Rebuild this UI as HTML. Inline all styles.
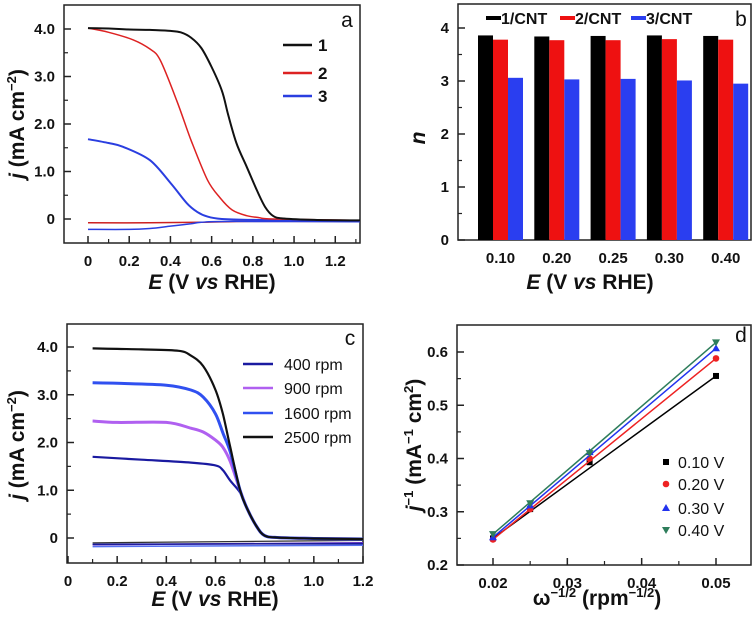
<!DOCTYPE html>
<html><head><meta charset="utf-8">
<style>
html,body{margin:0;padding:0;background:#fff;}
svg{display:block;font-family:"Liberation Sans",Arial,sans-serif;}
.tk{font-size:15px;font-weight:bold;fill:#111;}
.tt{font-size:21px;font-weight:bold;fill:#111;}
.lg{font-size:16px;fill:#111;}
</style></head>
<body>
<svg id="fig" width="756" height="619" viewBox="0 0 756 619" xmlns="http://www.w3.org/2000/svg"></svg>
<script>
// ---------- Panel a data ----------
const aBlackE=[0,0.1,0.2,0.3,0.4,0.45,0.5,0.55,0.6,0.65,0.68,0.72,0.77,0.82,0.86,0.9,0.95,1.1,1.32];
const aBlackJ=[4.02,4.01,3.99,3.98,3.96,3.93,3.82,3.6,3.2,2.7,2.2,1.6,1.1,0.6,0.25,0.06,0.01,-0.02,-0.03];
const aRedE=[0,0.1,0.22,0.3,0.35,0.43,0.5,0.58,0.64,0.7,0.77,0.83,0.9,1.32];
const aRedJ=[4.02,3.93,3.77,3.58,3.35,2.5,1.66,0.82,0.45,0.19,0.07,0.03,0.0,-0.03];
const aBlueE=[0,0.1,0.17,0.3,0.4,0.48,0.53,0.58,0.65,0.8,1.32];
const aBlueJ=[1.68,1.6,1.52,1.24,0.76,0.33,0.15,0.05,0.0,-0.02,-0.05];
const aRedRetE=[0,0.3,0.55,0.8,1.32];
const aRedRetJ=[-0.08,-0.08,-0.07,-0.05,-0.05];
const aBlueRetE=[0,0.2,0.3,0.4,0.5,0.55,0.7,1.32];
const aBlueRetJ=[-0.22,-0.22,-0.2,-0.15,-0.1,-0.07,-0.05,-0.06];
const aXTicks=[0,0.2,0.4,0.6,0.8,1.0,1.2];
const aXTickLabels=["0","0.2","0.4","0.6","0.8","1.0","1.2"];
const aYTicks=[0,1,2,3,4];
const aYTickLabels=["0","1.0","2.0","3.0","4.0"];
const aLegend=["1","2","3"];
// ---------- Panel b data ----------
const bCategories=["0.10","0.20","0.25","0.30","0.40"];
const bSeries1=[3.86,3.84,3.85,3.86,3.85];
const bSeries2=[3.78,3.77,3.77,3.79,3.78];
const bSeries3=[3.06,3.03,3.04,3.01,2.95];
const bYTicks=[0,1,2,3,4];
const bLegend=["1/CNT","2/CNT","3/CNT"];
// ---------- Panel c data ----------
const c2500E=[0.1,0.2,0.3,0.45,0.5,0.55,0.6,0.63,0.66,0.7,0.73,0.77,0.8,0.85,1.0,1.2];
const c2500J=[3.97,3.96,3.95,3.92,3.82,3.6,3.1,2.6,1.9,1.0,0.6,0.22,0.05,0.01,-0.01,-0.02];
const c1600E=[0.1,0.2,0.4,0.5,0.55,0.6,0.63,0.66,0.7,0.73,0.77,0.8,0.85,1.0,1.2];
const c1600J=[3.25,3.24,3.2,3.1,2.95,2.6,2.2,1.8,1.0,0.6,0.22,0.05,0.01,-0.01,-0.02];
const c900E=[0.1,0.2,0.4,0.5,0.55,0.6,0.63,0.66,0.7,0.73,0.77,0.8,0.85,1.0,1.2];
const c900J=[2.45,2.42,2.42,2.3,2.22,2.05,1.9,1.6,1.0,0.6,0.22,0.05,0.01,-0.01,-0.02];
const c400E=[0.1,0.3,0.5,0.6,0.63,0.66,0.7,0.73,0.77,0.8,0.85,1.0,1.2];
const c400J=[1.7,1.64,1.58,1.52,1.42,1.2,0.95,0.6,0.22,0.05,0.01,-0.01,-0.02];
const cRetE=[0.1,1.2];
const cRet1=[-0.1,-0.05];
const cRet2=[-0.14,-0.1];
const cRet3=[-0.18,-0.15];
const cRet4=[-0.13,-0.12];
const cXTicks=[0,0.2,0.4,0.6,0.8,1.0,1.2];
const cXTickLabels=["0","0.2","0.4","0.6","0.8","1.0","1.2"];
const cYTicks=[0,1,2,3,4];
const cYTickLabels=["0","1.0","2.0","3.0","4.0"];
const cLegend=["400 rpm","900 rpm","1600 rpm","2500 rpm"];
// ---------- Panel d data ----------
const dX=[0.02,0.025,0.033,0.05];
const d010=[0.25,0.305,0.393,0.555];
const d020=[0.248,0.305,0.40,0.588];
const d030=[0.252,0.312,0.412,0.607];
const d040=[0.258,0.316,0.41,0.618];
const dXTicks=[0.02,0.03,0.04,0.05];
const dYTicks=[0.2,0.3,0.4,0.5,0.6];
const dLegend=["0.10 V","0.20 V","0.30 V","0.40 V"];

const NS="http://www.w3.org/2000/svg";
const svg=document.getElementById('fig');
function el(tag,attrs,parent,text){const e=document.createElementNS(NS,tag);for(const k in attrs)e.setAttribute(k,attrs[k]);if(text!==undefined)e.textContent=text;(parent||svg).appendChild(e);return e;}
function lin(d0,d1,r0,r1){return v=>r0+(v-d0)*(r1-r0)/(d1-d0);}

function frame(g,L,T,R,B,name){
  const r=el('rect',{x:L,y:T,width:R-L,height:B-T,fill:'none',stroke:'#222','stroke-width':1.5},g);
  
  
}
function curve(g,sx,sy,xs,ys,color,w,name){
  const P=xs.map((x,i)=>[sx(x),sy(ys[i])]);
  let d='M'+P[0][0].toFixed(1)+','+P[0][1].toFixed(1);
  for(let i=0;i<P.length-1;i++){
    const p0=P[Math.max(i-1,0)],p1=P[i],p2=P[i+1],p3=P[Math.min(i+2,P.length-1)];
    const t=0.16;
    const c1=[p1[0]+(p2[0]-p0[0])*t,p1[1]+(p2[1]-p0[1])*t];
    const c2=[p2[0]-(p3[0]-p1[0])*t,p2[1]-(p3[1]-p1[1])*t];
    d+=` C${c1[0].toFixed(1)},${c1[1].toFixed(1)} ${c2[0].toFixed(1)},${c2[1].toFixed(1)} ${p2[0].toFixed(1)},${p2[1].toFixed(1)}`;
  }
  const e=el('path',{d:d,fill:'none',stroke:color,'stroke-width':w,'stroke-linejoin':'round'},g);
  
  
}
function xAxis(g,sx,B,ticks,labels,minor,name){
  const ga=el('g',{},g);
  
  
  ticks.forEach((t,i)=>{
    el('line',{x1:sx(t),x2:sx(t),y1:B,y2:B-7,stroke:'#222','stroke-width':1.5},ga);
    const tx=el('text',{x:sx(t),y:B+23,'text-anchor':'middle',class:'tk'},ga,labels[i]);
    
    
  });
  minor.forEach(t=>el('line',{x1:sx(t),x2:sx(t),y1:B,y2:B-4,stroke:'#222','stroke-width':1.2},ga));
}
function yAxis(g,sy,L,ticks,labels,minor,name){
  const ga=el('g',{},g);
  
  
  ticks.forEach((t,i)=>{
    el('line',{x1:L,x2:L+7,y1:sy(t),y2:sy(t),stroke:'#222','stroke-width':1.5},ga);
    const tx=el('text',{x:L-9,y:sy(t)+5,'text-anchor':'end',class:'tk'},ga,labels[i]);
    
    
  });
  minor.forEach(t=>el('line',{x1:L,x2:L+4,y1:sy(t),y2:sy(t),stroke:'#222','stroke-width':1.2},ga));
}
function xTitle(g,x,y,name){
  const t=el('text',{x:x,y:y,'text-anchor':'middle',class:'tt'},g);
  
  
  el('tspan',{'font-style':'italic'},t,'E');
  el('tspan',{},t,' (V ');
  el('tspan',{'font-style':'italic'},t,'vs');
  el('tspan',{},t,' RHE)');
}
function jTitle(g,x,y,name){
  const t=el('text',{transform:`translate(${x},${y}) rotate(-90)`,'text-anchor':'middle',class:'tt'},g);
  
  
  el('tspan',{'font-style':'italic'},t,'j');
  el('tspan',{},t,' (mA cm');
  el('tspan',{dy:-8,'font-size':13},t,'−2');
  el('tspan',{dy:8},t,')');
}
function panelLetter(g,x,y,s,name){
  const t=el('text',{x:x,y:y,'font-size':21,fill:'#111','text-anchor':'middle'},g,s);
  
  
}
function range(a,b,s){const r=[];for(let v=a;v<=b+1e-9;v+=s)r.push(+v.toFixed(4));return r;}

// ===== Panel a =====
{
const g=el('g',{});


const L=64,T=5,R=360,B=243;
const sx=lin(0,1.32,88,360), sy=lin(0,4,219,29);
frame(g,L,T,R,B,'panel-a-frame');
xAxis(g,sx,B,aXTicks,aXTickLabels,range(0.1,1.3,0.2),'panel-a-x-axis');
yAxis(g,sy,L,aYTicks,aYTickLabels,range(0.5,3.5,1),'panel-a-y-axis');
curve(g,sx,sy,aRedRetE,aRedRetJ,'#cc2020',1.5,'curve-2-return');
curve(g,sx,sy,aBlueRetE,aBlueRetJ,'#2a3ee0',1.5,'curve-3-return');
curve(g,sx,sy,aBlueE,aBlueJ,'#2a3ee0',2,'curve-3');
curve(g,sx,sy,aRedE,aRedJ,'#dd2222',1.5,'curve-2');
curve(g,sx,sy,aBlackE,aBlackJ,'#111',2,'curve-1');
const cols=['#111','#dd2222','#2a3ee0'], ly=[45,73,96];
aLegend.forEach((s,i)=>{
  const le=el('g',{},g);
  
  
  el('line',{x1:283,x2:312,y1:ly[i],y2:ly[i],stroke:cols[i],'stroke-width':2.5},le);
  el('text',{x:318,y:ly[i]+6,'font-size':17,'font-weight':'bold',fill:'#111'},le,s);
});
panelLetter(g,347,27,'a','panel-a-letter');
xTitle(g,212,289,'panel-a-x-title');
jTitle(g,24,124,'panel-a-y-title');
}
// ===== Panel b =====
{
const g=el('g',{});


const L=458,T=4,R=751,B=240;
const sy=lin(0,4,240,28);
frame(g,L,T,R,B,'panel-b-frame');
const step=56.3, x0=478, bw=15;
const series=[bSeries1,bSeries2,bSeries3], cols=['#000','#ee1111','#2a3ef0'], names=['1-cnt','2-cnt','3-cnt'];
bCategories.forEach((c,i)=>{
  series.forEach((s,k)=>{
    const r=el('rect',{x:x0+i*step+k*bw,y:sy(s[i]),width:bw,height:sy(0)-sy(s[i]),fill:cols[k]},g);
    
    
  });
  const t=el('text',{x:x0+i*step+22.5,y:B+23,'text-anchor':'middle',class:'tk'},g,c);
  
  
});
yAxis(g,sy,L,bYTicks,bYTicks.map(String),range(0.5,3.5,1),'panel-b-y-axis');
const lx=[486,560,631];
bLegend.forEach((s,i)=>{
  const le=el('g',{},g);
  
  
  el('line',{x1:lx[i],x2:lx[i]+15,y1:18,y2:18,stroke:cols[i],'stroke-width':4},le);
  el('text',{x:lx[i]+15,y:24,'font-size':16,'font-weight':'bold',fill:'#111'},le,s);
});
panelLetter(g,741,26,'b','panel-b-letter');
xTitle(g,590,289,'panel-b-x-title');
const t=el('text',{x:0,y:0,transform:'translate(425,138) rotate(-90)','text-anchor':'middle','font-size':21,'font-weight':'bold','font-style':'italic',fill:'#111'},g,'n');


}
// ===== Panel c =====
{
const g=el('g',{});


const L=67,T=324,R=363,B=563;
const sx=lin(0,1.2,68,363), sy=lin(0,4,538,347);
frame(g,L,T,R,B,'panel-c-frame');
xAxis(g,sx,B,cXTicks,cXTickLabels,range(0.1,1.1,0.2),'panel-c-x-axis');
yAxis(g,sy,L,cYTicks,cYTickLabels,range(0.5,3.5,1),'panel-c-y-axis');
curve(g,sx,sy,cRetE,cRet3,'#5570f0',1.5,'return-1600');
curve(g,sx,sy,cRetE,cRet2,'#6030c0',1.5,'return-900');
curve(g,sx,sy,cRetE,cRet4,'#1a1a9a',1.5,'return-400');
curve(g,sx,sy,cRetE,cRet1,'#333',1.2,'return-2500');
curve(g,sx,sy,c400E,c400J,'#1a1aa0',2.2,'curve-400-rpm');
curve(g,sx,sy,c900E,c900J,'#b060f0',3,'curve-900-rpm');
curve(g,sx,sy,c1600E,c1600J,'#3050f0',3,'curve-1600-rpm');
curve(g,sx,sy,c2500E,c2500J,'#111',2.2,'curve-2500-rpm');
const cols=['#1a1aa0','#b060f0','#3050f0','#111'], ly=[364,388,413,437];
cLegend.forEach((s,i)=>{
  const le=el('g',{},g);
  
  
  el('line',{x1:243,x2:273,y1:ly[i],y2:ly[i],stroke:cols[i],'stroke-width':2.5},le);
  el('text',{x:284,y:ly[i]+6,class:'lg'},le,s);
});
panelLetter(g,350,345,'c','panel-c-letter');
xTitle(g,215,606,'panel-c-x-title');
jTitle(g,24,445,'panel-c-y-title');
}
// ===== Panel d =====
{
const g=el('g',{});


const L=457,T=325,R=751,B=565;
const sx=lin(0.02,0.05,493,716), sy=lin(0.2,0.6,565,352);
frame(g,L,T,R,B,'panel-d-frame');
xAxis(g,sx,B,dXTicks,dXTicks.map(v=>v.toFixed(2)),[0.025,0.035,0.045],'panel-d-x-axis');
yAxis(g,sy,L,dYTicks,dYTicks.map(v=>v.toFixed(1)),[0.25,0.35,0.45,0.55],'panel-d-y-axis');
const series=[d010,d020,d030,d040], cols=['#000','#ee2222','#2233ee','#2e7d5b'], shapes=['sq','ci','tu','td'];
function marker(p,x,y,shape,col){
  let m;
  if(shape==='sq')m=el('rect',{x:x-3,y:y-3,width:6,height:6,fill:col},p);
  else if(shape==='ci')m=el('circle',{cx:x,cy:y,r:3.3,fill:col},p);
  else if(shape==='tu')m=el('polygon',{points:`${x},${y-4} ${x-4},${y+3} ${x+4},${y+3}`,fill:col},p);
  else m=el('polygon',{points:`${x},${y+4} ${x-4},${y-3} ${x+4},${y-3}`,fill:col},p);
  return m;
}
series.forEach((s,k)=>{
  const sg=el('g',{},g);
  
  
  curve(sg,sx,sy,[dX[0],dX[dX.length-1]],[s[0],s[s.length-1]],cols[k],1.5,'fit-line');
  dX.forEach((x,i)=>{
    const m=marker(sg,sx(x),sy(s[i]),shapes[k],cols[k]);
    
    
  });
});
const ly=[462,484,508,530];
dLegend.forEach((s,i)=>{
  const le=el('g',{},g);
  
  
  marker(le,666,ly[i],shapes[i],cols[i]);
  el('text',{x:678,y:ly[i]+6,class:'lg'},le,s);
});
panelLetter(g,741,342,'d','panel-d-letter');
const xt=el('text',{x:597,y:605,'text-anchor':'middle',class:'tt'},g);


el('tspan',{},xt,'ω');
el('tspan',{dy:-8,'font-size':13},xt,'−1/2');
el('tspan',{dy:8},xt,' (rpm');
el('tspan',{dy:-8,'font-size':13},xt,'−1/2');
el('tspan',{dy:8},xt,')');
const yt=el('text',{transform:'translate(421,445) rotate(-90)','text-anchor':'middle',class:'tt'},g);


el('tspan',{'font-style':'italic'},yt,'j');
el('tspan',{dy:-8,'font-size':13},yt,'−1');
el('tspan',{dy:8},yt,' (mA');
el('tspan',{dy:-8,'font-size':13},yt,'−1');
el('tspan',{dy:8},yt,' cm');
el('tspan',{dy:-8,'font-size':13},yt,'2');
el('tspan',{dy:8},yt,')');
}
</script>
</body></html>
